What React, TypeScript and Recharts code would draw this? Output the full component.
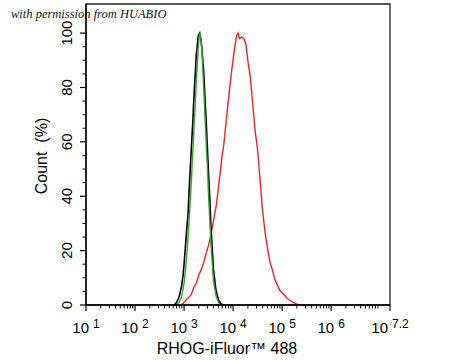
import React from 'react';
import { LineChart, Line, XAxis, YAxis, ReferenceArea } from 'recharts';

// log10 of fluorescence intensity and count (%) for each histogram
const blackLog = [2.80, 2.85, 2.90, 2.95, 2.98, 3.00, 3.05, 3.08, 3.10, 3.15, 3.18, 3.20, 3.25, 3.29, 3.32, 3.35, 3.40, 3.43, 3.45, 3.50, 3.53, 3.55, 3.60, 3.65, 3.70, 3.75, 3.80];
const blackCount = [0, 1, 3, 7, 11, 15, 27, 33, 41, 58, 68, 76, 92, 99, 100, 97, 86, 75, 68, 48, 37, 28, 13, 5.5, 2, 0.5, 0];

const greenLog = [2.86, 2.90, 2.95, 3.00, 3.03, 3.05, 3.10, 3.13, 3.15, 3.20, 3.25, 3.29, 3.31, 3.33, 3.36, 3.40, 3.45, 3.48, 3.50, 3.55, 3.60, 3.65, 3.70, 3.74];
const greenCount = [0, 1, 3, 8, 13, 17, 30, 39, 46, 64, 82, 95, 99, 100, 95, 80, 60, 49, 40, 22, 9, 3.5, 1, 0];

const redLog = [2.92, 2.98, 3.05, 3.10, 3.15, 3.20, 3.25, 3.30, 3.35, 3.40, 3.45, 3.50, 3.55, 3.62, 3.66, 3.70, 3.77, 3.81, 3.85, 3.92, 3.97, 4.02, 4.07, 4.10, 4.13, 4.17, 4.22, 4.26, 4.30, 4.35, 4.40, 4.45, 4.50, 4.55, 4.60, 4.65, 4.70, 4.75, 4.80, 4.85, 4.90, 4.95, 5.00, 5.10, 5.20, 5.30, 5.36];
const redCount = [0, 0.6, 2, 2.8, 4, 6.5, 8, 11, 13, 15.5, 19, 22, 26, 33, 37, 43, 54, 59, 66, 78, 86, 93, 99, 100, 98, 98.5, 98, 96, 90, 84, 74, 64, 57, 46, 35, 27, 21, 16, 13, 9.5, 7.5, 5.5, 4.5, 2.5, 1.2, 0.3, 0];

const xMajorTicks = [1, 2, 3, 4, 5, 6, 7.2];
const xTickExps = ['1', '2', '3', '4', '5', '6', '7.2'];
const yMajorTicks = [0, 20, 40, 60, 80, 100];
const yMinorStep = 5;

const xTitle = 'RHOG-iFluor\u2122 488';
const yTitle = 'Count  (%)';
const watermark = 'with permission from HUABIO';

const toPoints = (xs: number[], ys: number[]) => xs.map((x, i) => ({ x, y: ys[i] }));
const blackData = toPoints(blackLog, blackCount);
const greenData = toPoints(greenLog, greenCount);
const redData = toPoints(redLog, redCount);

const xMinorTicks: number[] = [];
for (let n = 1; n < 8; n++) {
  for (let k = 2; k <= 9; k++) {
    const v = n + Math.log10(k);
    if (v < 7.2) xMinorTicks.push(v);
  }
}
const xAllTicks = [...xMajorTicks, ...xMinorTicks].sort((a, b) => a - b);
const yAllTicks: number[] = [];
for (let v = 0; v <= 100; v += yMinorStep) yAllTicks.push(v);

const PLOT_LEFT = 86;
const PLOT_BOTTOM = 305;
const FONT = '"Liberation Sans", Arial, sans-serif';

const XTick = (props: any) => {
  const { x, payload } = props;
  const idx = xMajorTicks.indexOf(payload.value);
  if (idx >= 0) {
    return (
      <g>
        <line x1={x} x2={x} y1={PLOT_BOTTOM} y2={PLOT_BOTTOM + 6} stroke="#000" strokeWidth={1.2} />
        <text x={x} y={333} textAnchor="middle" fontSize={15} fontFamily={FONT} fill="#000">
          <tspan>10</tspan>
          <tspan dx={4} dy={-5} fontSize={12}>{xTickExps[idx]}</tspan>
        </text>
      </g>
    );
  }
  return <line x1={x} x2={x} y1={PLOT_BOTTOM} y2={PLOT_BOTTOM + 3.5} stroke="#000" strokeWidth={1} />;
};

const YTick = (props: any) => {
  const { y, payload } = props;
  const isMajor = yMajorTicks.indexOf(payload.value) >= 0;
  if (isMajor) {
    return (
      <g>
        <line x1={PLOT_LEFT - 6} x2={PLOT_LEFT} y1={y} y2={y} stroke="#000" strokeWidth={1.2} />
        <text x={72} y={y} textAnchor="middle" fontSize={15} fontFamily={FONT} fill="#000" transform={`rotate(-90, 72, ${y})`}>
          {payload.value}
        </text>
      </g>
    );
  }
  return <line x1={PLOT_LEFT - 3.5} x2={PLOT_LEFT} y1={y} y2={y} stroke="#000" strokeWidth={1} />;
};

const XTitle = () => (
  <text x={227} y={354} textAnchor="middle" fontSize={16} fontFamily={FONT} fill="#000">{xTitle}</text>
);

const YTitle = () => (
  <text x={47} y={156} textAnchor="middle" fontSize={16} fontFamily={FONT} fill="#000" transform="rotate(-90, 47, 156)" style={{ whiteSpace: 'pre' }}>{yTitle}</text>
);

export default function App() {
  return (
    <div style={{ position: 'absolute', left: 0, top: 0, width: 450, height: 360, background: '#fff' }}>
      <LineChart width={450} height={360} margin={{ top: 4, right: 60, left: 0, bottom: 0 }}>
        <XAxis
          type="number"
          dataKey="x"
          domain={[1, 7.2]}
          ticks={xAllTicks}
          interval={0}
          height={55}
          axisLine={{ stroke: '#000', strokeWidth: 1.3 }}
          tickLine={false}
          tick={<XTick />}
          allowDataOverflow
          label={{ content: <XTitle /> }}
        />
        <YAxis
          type="number"
          domain={[0, 110.7]}
          ticks={yAllTicks}
          interval={0}
          width={86}
          axisLine={{ stroke: '#000', strokeWidth: 1.3 }}
          tickLine={false}
          tick={<YTick />}
          allowDataOverflow
          label={{ content: <YTitle /> }}
        />
        <ReferenceArea x1={1} x2={7.2} y1={0} y2={110.7} fill="none" stroke="#222" strokeWidth={1.3} />
        <Line data={redData} dataKey="y" type="linear" stroke="#e3242b" strokeWidth={1.4} dot={false} isAnimationActive={false} />
        <Line data={blackData} dataKey="y" type="linear" stroke="#000" strokeWidth={1.6} dot={false} isAnimationActive={false} />
        <Line data={greenData} dataKey="y" type="linear" stroke="#3c9a3c" strokeWidth={1.4} dot={false} isAnimationActive={false} />
      </LineChart>
      <div style={{ position: 'absolute', left: 11, top: 6, fontFamily: '"Liberation Serif", "DejaVu Serif", serif', fontStyle: 'italic', fontSize: 12.5, color: '#111', whiteSpace: 'nowrap', lineHeight: '16px' }}>
        {watermark}
      </div>
    </div>
  );
}
